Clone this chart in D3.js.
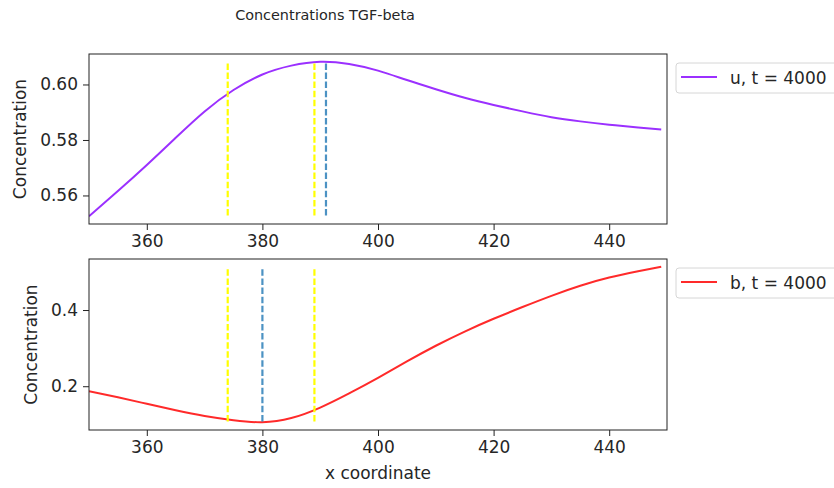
<!DOCTYPE html>
<html>
<head>
<meta charset="utf-8">
<script src="https://cdn.jsdelivr.net/npm/d3@7"></script>
<style>
  html, body { margin: 0; padding: 0; background: #fff; }
  svg { display: block; font-family: "DejaVu Sans", sans-serif; }
</style>
</head>
<body>
<svg id="chart" width="834" height="488"></svg>
<script>
// Sample positions along the x coordinate
const xPositions = [350, 355, 360, 365, 370, 375, 380, 385, 390, 395, 400,
                    405, 410, 415, 420, 425, 430, 435, 440, 445, 449];
// u concentration at t = 4000
const uValues = [0.5525, 0.5616, 0.5710, 0.5808, 0.5903, 0.5980, 0.6036, 0.6068, 0.6082, 0.6074, 0.6050,
                 0.6016, 0.5983, 0.5952, 0.5926, 0.5903, 0.5882, 0.5867, 0.5855, 0.5845, 0.5838];
// b concentration at t = 4000
const bValues = [0.1870, 0.1710, 0.1538, 0.1368, 0.1218, 0.1108, 0.1055, 0.1165, 0.1440, 0.1812, 0.2220,
                 0.2650, 0.3062, 0.3435, 0.3770, 0.4078, 0.4372, 0.4636, 0.4851, 0.5015, 0.5135];
// Reference positions marked with dashed vertical lines
const uBoundaries = [374, 389];
const uExtremum = [391];
const bBoundaries = [374, 389];
const bExtremum = [380];
// Tick labels
const xTicks = [360, 380, 400, 420, 440];
const uTicks = [0.56, 0.58, 0.60];
const bTicks = [0.2, 0.4];

const svg = d3.select("#chart");
const left = 89, right = 667;
const fontSize = "17px";
const panels = [
  { top: 54, bottom: 224, values: uValues, ticks: uTicks, fmt: d3.format(".2f"),
    color: "#9b30ff", label: "u, t = 4000", bounds: uBoundaries, ext: uExtremum, yLabelX: 20 },
  { top: 259, bottom: 430, values: bValues, ticks: bTicks, fmt: d3.format(".1f"),
    color: "#ff2a2a", label: "b, t = 4000", bounds: bBoundaries, ext: bExtremum, yLabelX: 31 }
];

const x = d3.scaleLinear().domain([350, 450]).range([left, right]);
const textColor = "#262626";

panels.forEach((p, i) => {
  const lo = d3.min(p.values), hi = d3.max(p.values), pad = (hi - lo) * 0.05;
  const y = d3.scaleLinear().domain([lo - pad, hi + pad]).range([p.bottom, p.top]);
  const g = svg.append("g");

  const clipId = "clip" + i;
  g.append("clipPath").attr("id", clipId).append("rect")
    .attr("x", left).attr("y", p.top).attr("width", right - left).attr("height", p.bottom - p.top);

  const plot = g.append("g").attr("clip-path", `url(#${clipId})`);

  // concentration curve
  const line = d3.line().x((d, k) => x(xPositions[k])).y(d => y(d)).curve(d3.curveNatural);
  plot.append("path").datum(p.values)
    .attr("d", line).attr("fill", "none")
    .attr("stroke", p.color).attr("stroke-width", 2);

  // dashed markers spanning 5%..95% of the panel height
  const y0 = p.bottom - 0.05 * (p.bottom - p.top), y1 = p.top + 0.05 * (p.bottom - p.top);
  plot.selectAll("line.bound").data(p.bounds).join("line")
    .attr("class", "bound")
    .attr("x1", d => x(d)).attr("x2", d => x(d)).attr("y1", y0).attr("y2", y1)
    .attr("stroke", "#ffff00").attr("stroke-width", 2.2).attr("stroke-dasharray", "6.5,2.6");
  plot.selectAll("line.ext").data(p.ext).join("line")
    .attr("class", "ext")
    .attr("x1", d => x(d)).attr("x2", d => x(d)).attr("y1", y0).attr("y2", y1)
    .attr("stroke", "#1f77b4").attr("stroke-opacity", 0.8).attr("stroke-width", 2.2).attr("stroke-dasharray", "6.5,2.6");

  // axes
  const xAxis = g.append("g").attr("transform", `translate(0,${p.bottom})`)
    .call(d3.axisBottom(x).tickValues(xTicks).tickSize(6).tickPadding(5).tickFormat(d3.format("d")));
  const yAxis = g.append("g").attr("transform", `translate(${left},0)`)
    .call(d3.axisLeft(y).tickValues(p.ticks).tickSize(6).tickPadding(5).tickFormat(p.fmt));
  [xAxis, yAxis].forEach(a => {
    a.select(".domain").remove();
    a.selectAll(".tick line").attr("stroke", "#222").attr("stroke-width", 1);
    a.selectAll(".tick text").attr("fill", textColor).style("font-size", fontSize).style("font-family", "DejaVu Sans");
  });

  // frame
  g.append("rect").attr("x", left).attr("y", p.top)
    .attr("width", right - left).attr("height", p.bottom - p.top)
    .attr("fill", "none").attr("stroke", "#222").attr("stroke-width", 1);

  // y label
  g.append("text")
    .attr("transform", `translate(${p.yLabelX},${(p.top + p.bottom) / 2}) rotate(-90)`)
    .attr("text-anchor", "middle").attr("dominant-baseline", "central")
    .attr("fill", textColor).style("font-size", fontSize).text("Concentration");

  // legend
  const lg = svg.append("g").attr("transform", `translate(676,${p.top + 9})`);
  lg.append("rect").attr("x", 0).attr("y", 0).attr("width", 170).attr("height", 30)
    .attr("rx", 3).attr("fill", "#fff").attr("stroke", "#d6d6d6").attr("stroke-width", 1);
  lg.append("line").attr("x1", 5).attr("x2", 41).attr("y1", 14).attr("y2", 14)
    .attr("stroke", p.color).attr("stroke-width", 2);
  lg.append("text").attr("x", 54).attr("y", 15).attr("dominant-baseline", "central")
    .attr("fill", textColor).style("font-size", fontSize).text(p.label);
});

// x label and title
svg.append("text").attr("x", (left + right) / 2).attr("y", 473)
  .attr("text-anchor", "middle").attr("dominant-baseline", "central")
  .attr("fill", textColor).style("font-size", fontSize).text("x coordinate");
svg.append("text").attr("x", 325).attr("y", 15)
  .attr("text-anchor", "middle").attr("dominant-baseline", "central")
  .attr("fill", textColor).style("font-size", "14.4px").text("Concentrations TGF-beta");
</script>
</body>
</html>
